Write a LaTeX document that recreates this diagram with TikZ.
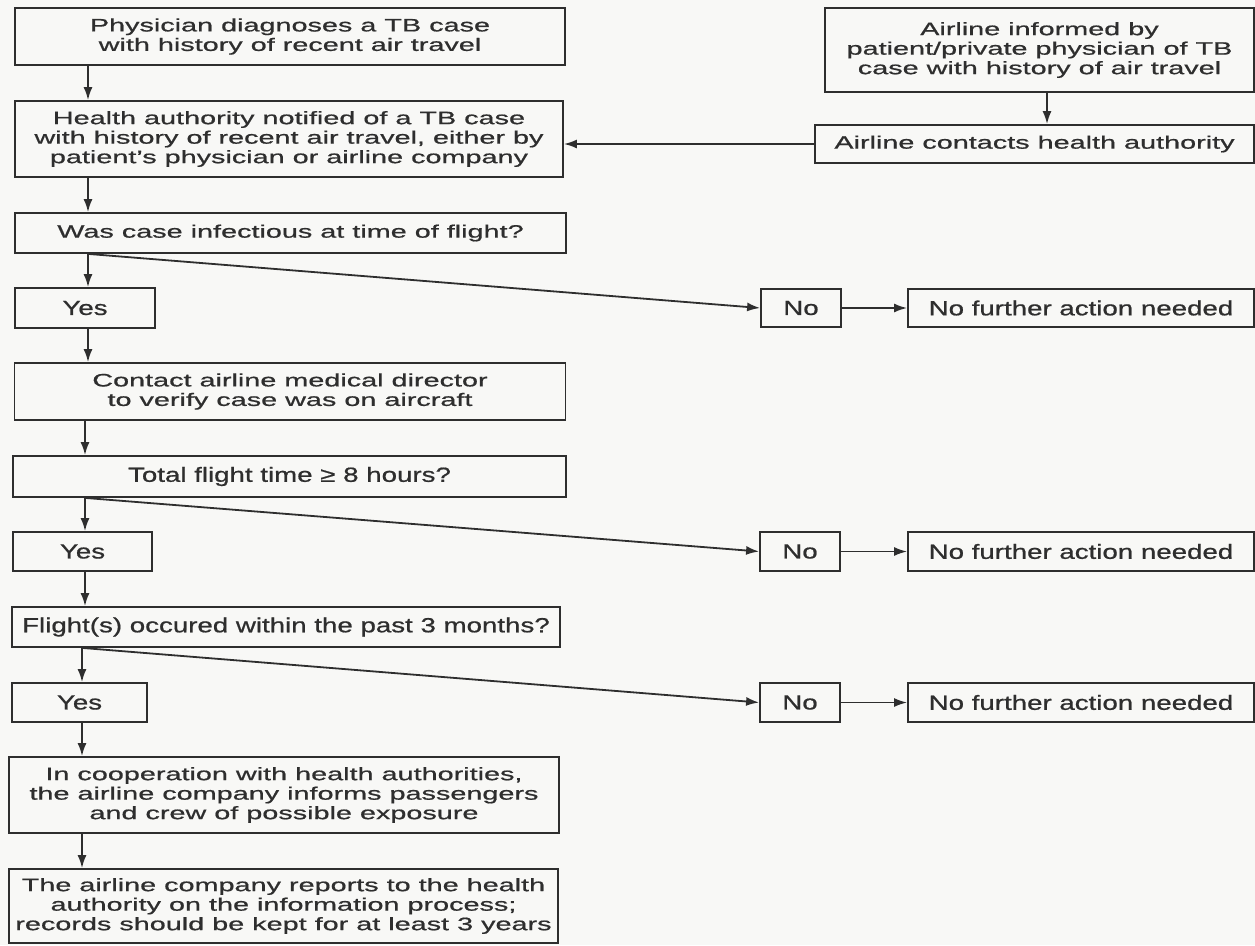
\documentclass[tikz,border=0pt]{standalone}
\usepackage{fontspec}
\setmainfont{Liberation Sans}[FakeStretch=1.6,FakeBold=0.8]
\newfontfamily\narrowfont{Liberation Sans}[FakeStretch=1.35,FakeBold=0.8]
\usetikzlibrary{arrows.meta}
\definecolor{ink}{HTML}{2E2E2E}
\definecolor{paper}{HTML}{F8F8F6}
\begin{document}
\begin{tikzpicture}[x=1pt,y=-1pt,
  box/.style={draw=ink, line width=1.8pt, text=ink, align=center, inner sep=0pt,
    font=\fontsize{18}{19.5}\selectfont},
  nbox/.style={box, font=\narrowfont\fontsize{20.5}{22}\selectfont},
  arr/.style={draw=ink, line width=1.8pt, -{Latex[length=13pt,width=9pt]}}]
\fill[paper] (0,0) rectangle (1255,945);
\useasboundingbox (0,0) rectangle (1255,945);

% left column
\node[box, minimum width=550pt, minimum height=57pt] (phys) at (290,36.5)
  {Physician diagnoses a TB case\\with history of recent air travel};
\node[box, minimum width=548pt, minimum height=76pt] (health) at (289,139)
  {Health authority notified of a TB case\\with history of recent air travel, either by\\patient's physician or airline company};
\node[box, minimum width=551pt, minimum height=40pt] (infect) at (290.5,233)
  {Was case infectious at time of flight?};
\node[nbox, minimum width=140pt, minimum height=40pt] (yesA) at (85,308) {Yes};
\node[box, minimum width=551pt, minimum height=57pt] (contact) at (290,391.5)
  {Contact airline medical director\\to verify case was on aircraft};
\node[nbox, minimum width=553pt, minimum height=41pt] (total) at (289.5,476.5)
  {Total flight time ≥ 8 hours?};
\node[nbox, minimum width=139pt, minimum height=39pt] (yesB) at (82.5,551.5) {Yes};
\node[nbox, minimum width=548pt, minimum height=40pt] (flight) at (286,627)
  {Flight(s) occured within the past 3 months?};
\node[nbox, minimum width=135pt, minimum height=39pt] (yesC) at (79.5,702.5) {Yes};
\node[box, minimum width=550pt, minimum height=76pt] (coop) at (284,795)
  {In cooperation with health authorities,\\the airline company informs passengers\\and crew of possible exposure};
\node[box, minimum width=549pt, minimum height=74pt] (report) at (283.5,906)
  {The airline company reports to the health\\authority on the information process;\\records should be kept for at least 3 years};

% right column
\node[box, minimum width=429pt, minimum height=84pt] (informed) at (1039.5,50)
  {Airline informed by\\patient/private physician of TB\\case with history of air travel};
\node[box, minimum width=439pt, minimum height=38pt] (contacts) at (1034.5,144)
  {Airline contacts health authority};

\node[nbox, minimum width=80pt, minimum height=38pt] (noA) at (801,308) {No};
\node[nbox, minimum width=346pt, minimum height=38pt] (nfA) at (1081,308) {No further action needed};
\node[nbox, minimum width=80pt, minimum height=39pt] (noB) at (800,551.5) {No};
\node[nbox, minimum width=346pt, minimum height=39pt] (nfB) at (1081,551.5) {No further action needed};
\node[nbox, minimum width=80pt, minimum height=39pt] (noC) at (800,702.5) {No};
\node[nbox, minimum width=346pt, minimum height=39pt] (nfC) at (1081,702.5) {No further action needed};

\coordinate (c88) at (88,0);
\coordinate (c85) at (85,0);
\coordinate (c82) at (82,0);
\coordinate (cr) at (1047,0);

% vertical flow
\draw[arr] (phys.south -| c88) -- (health.north -| c88);
\draw[arr] (health.south -| c88) -- (infect.north -| c88);
\draw[arr] (infect.south -| c88) -- (yesA.north -| c88);
\draw[arr] (yesA.south -| c88) -- (contact.north -| c88);
\draw[arr] (contact.south -| c85) -- (total.north -| c85);
\draw[arr] (total.south -| c85) -- (yesB.north -| c85);
\draw[arr] (yesB.south -| c85) -- (flight.north -| c85);
\draw[arr] (flight.south -| c82) -- (yesC.north -| c82);
\draw[arr] (yesC.south -| c82) -- (coop.north -| c82);
\draw[arr] (coop.south -| c82) -- (report.north -| c82);

% no branches
\draw[arr] (infect.south -| c88) -- (noA.west);
\draw[arr] (total.south -| c85) -- (noB.west);
\draw[arr] (flight.south -| c82) -- (noC.west);
\draw[arr] (noA.east) -- (nfA.west);
\draw[arr] (noB.east) -- (nfB.west);
\draw[arr] (noC.east) -- (nfC.west);

% airline side
\draw[arr] (informed.south -| cr) -- (contacts.north -| cr);
\draw[arr] (contacts.west) -- (contacts.west -| health.east);
\end{tikzpicture}
\end{document}
